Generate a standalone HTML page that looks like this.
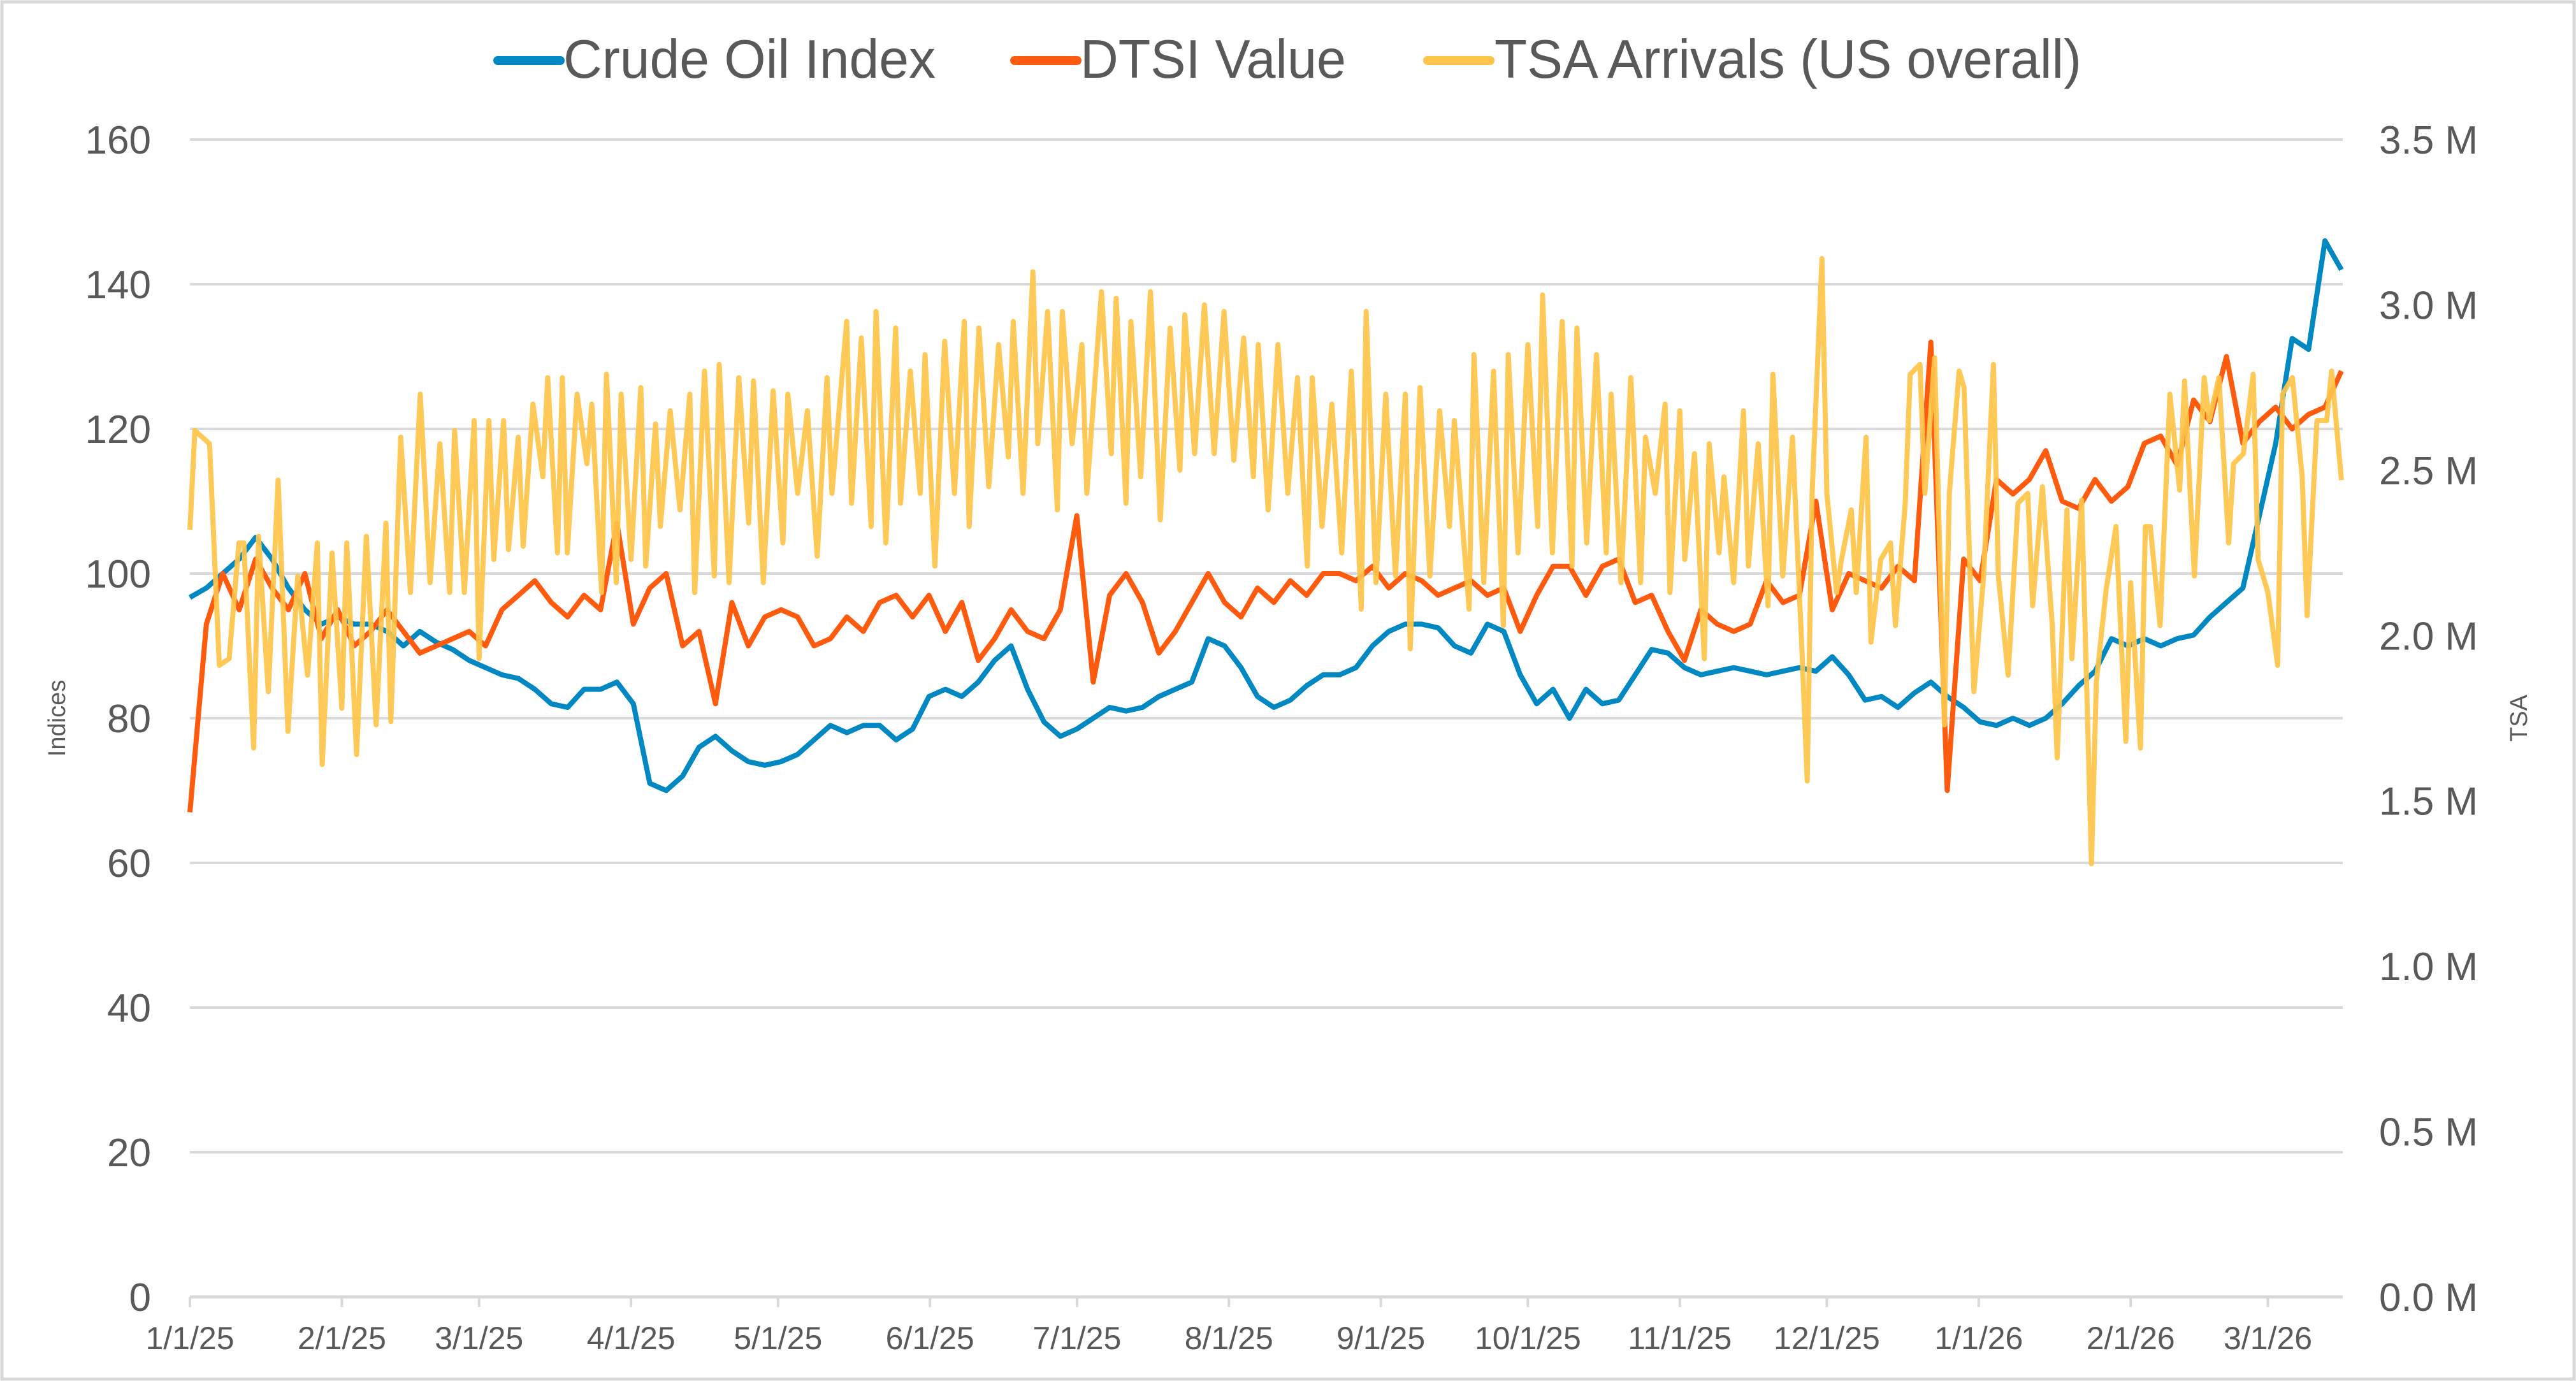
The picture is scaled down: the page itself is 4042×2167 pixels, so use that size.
<!DOCTYPE html>
<html><head><meta charset="utf-8"><style>
html,body{margin:0;padding:0;background:#fff;}
svg{display:block;font-family:"Liberation Sans",sans-serif;}
</style></head><body>
<svg id="chart" width="4042" height="2167" viewBox="0 0 4042 2167" xmlns="http://www.w3.org/2000/svg">
<rect x="3" y="3" width="4036" height="2161" fill="#fff" stroke="#d9d9d9" stroke-width="5"/>
<g id="grid"></g>
<g id="axes"></g>
<g id="series"></g>
<g>
  <g>
    <line x1="781" y1="95" x2="879" y2="95" stroke="#0088c2" stroke-width="14" stroke-linecap="round"/>
    <text x="884" y="122" font-size="85" fill="#595959" textLength="584" lengthAdjust="spacingAndGlyphs">Crude Oil Index</text>
  </g>
  <g>
    <line x1="1592" y1="95" x2="1690" y2="95" stroke="#ff5b0f" stroke-width="14" stroke-linecap="round"/>
    <text x="1695" y="122" font-size="85" fill="#595959" textLength="417" lengthAdjust="spacingAndGlyphs">DTSI Value</text>
  </g>
  <g>
    <line x1="2240" y1="95" x2="2338" y2="95" stroke="#ffc44a" stroke-width="14" stroke-linecap="round"/>
    <text x="2345" y="122" font-size="85" fill="#595959" textLength="921" lengthAdjust="spacingAndGlyphs">TSA Arrivals (US overall)</text>
  </g>
</g>
<text transform="translate(102,1127) rotate(-90)" text-anchor="middle" font-size="38" fill="#595959">Indices</text>
<text transform="translate(3965,1127) rotate(-90)" text-anchor="middle" font-size="38" fill="#595959">TSA</text>
</svg>
<script>
const leftTicks=[0,20,40,60,80,100,120,140,160];
const rightTicks=[0,0.5,1.0,1.5,2.0,2.5,3.0,3.5];
const xTickDays=[0,31,59,90,120,151,181,212,243,273,304,334,365,396,424];
const xTickLabels=["1/1/25","2/1/25","3/1/25","4/1/25","5/1/25","6/1/25","7/1/25","8/1/25","9/1/25","10/1/25","11/1/25","12/1/25","1/1/26","2/1/26","3/1/26"];
const oilValues=[96.7,98,100,102,105,102,98,95,93,94,
93,93,92,90,92,90.5,89.5,88,87,86,
85.5,84,82,81.5,84,84,85,82,71,70,
72,76,77.5,75.5,74,73.5,74,75,77,79,
78,79,79,77,78.5,83,84,83,85,88,
90,84,79.5,77.5,78.5,80,81.5,81,81.5,83,
84,85,91,90,87,83,81.5,82.5,84.5,86,
86,87,90,92,93,93,92.5,90,89,93,
92,86,82,84,80,84,82,82.5,86,89.5,
89,87,86,86.5,87,86.5,86,86.5,87,86.5,
88.5,86,82.5,83,81.5,83.5,85,83,81.5,79.5,
79,80,79,80,82,84.5,86.5,91,90,91,
90,91,91.5,94,96,98,108,118,132.5,131,
146,142];
const dtsiValues=[67,93,100,95,102,98,95,100,91,95,
90,92,95,92,89,90,91,92,90,95,
97,99,96,94,97,95,107,93,98,100,
90,92,82,96,90,94,95,94,90,91,
94,92,96,97,94,97,92,96,88,91,
95,92,91,95,108,85,97,100,96,89,
92,96,100,96,94,98,96,99,97,100,
100,99,101,98,100,99,97,98,99,97,
98,92,97,101,101,97,101,102,96,97,
92,88,95,93,92,93,99,96,97,110,
95,100,99,98,101,99,132,70,102,99,
113,111,113,117,110,109,113,110,112,118,
119,115,124,121,130,118,121,123,120,122,
123,128];
const seriesEndDay=439;
const tsaDays=[0,1,4,6,8,10,11,13,14,16,
18,20,22,24,26,27,29,31,32,34,
36,38,40,41,43,45,47,49,51,53,
54,56,58,59,61,62,64,65,67,68,
70,72,73,75,76,77,79,81,82,84,
85,87,88,90,92,93,95,96,98,100,
102,103,105,107,108,110,112,114,115,117,
119,121,122,124,126,128,130,131,134,135,
137,139,140,142,144,145,147,149,150,152,
154,156,158,159,161,163,165,167,168,170,
172,173,175,177,178,180,182,183,186,188,
189,191,192,194,196,198,200,202,203,205,
207,209,211,213,215,217,218,220,222,224,
226,228,229,231,233,235,237,239,240,242,
244,246,248,249,251,253,255,257,258,261,
262,264,266,268,269,271,273,275,276,278,
280,282,283,285,287,289,290,292,294,296,
297,299,301,302,304,305,307,309,310,312,
313,315,317,318,320,322,323,325,327,329,
330,331,333,334,336,337,339,340,342,343,
345,347,348,350,351,353,354,356,358,359,
361,362,364,366,368,369,371,373,375,376,
378,380,381,383,384,386,388,389,391,393,
395,396,398,399,400,402,404,406,407,409,
411,412,414,416,417,419,421,422,424,426,
427,429,431,432,434,436,437,439];
const tsaValues=[2.32,2.62,2.58,1.91,1.93,2.28,2.28,1.66,2.30,1.83,
2.47,1.71,2.18,1.88,2.28,1.61,2.25,1.78,2.28,1.64,
2.30,1.73,2.34,1.74,2.60,2.13,2.73,2.16,2.58,2.13,
2.62,2.13,2.65,1.93,2.65,2.23,2.65,2.26,2.60,2.27,
2.70,2.48,2.78,2.25,2.78,2.25,2.73,2.52,2.70,2.13,
2.79,2.16,2.73,2.23,2.75,2.21,2.64,2.33,2.68,2.38,
2.73,2.13,2.80,2.18,2.82,2.16,2.78,2.34,2.77,2.16,
2.74,2.28,2.73,2.43,2.68,2.24,2.78,2.43,2.95,2.40,
2.90,2.33,2.98,2.28,2.93,2.40,2.80,2.43,2.85,2.21,
2.89,2.43,2.95,2.33,2.93,2.45,2.88,2.54,2.95,2.43,
3.10,2.58,2.98,2.38,2.98,2.58,2.88,2.43,3.04,2.55,
3.02,2.40,2.95,2.48,3.04,2.35,2.93,2.50,2.97,2.55,
3.00,2.55,2.98,2.53,2.90,2.48,2.88,2.38,2.88,2.43,
2.78,2.21,2.78,2.33,2.70,2.25,2.80,2.08,2.98,2.16,
2.73,2.18,2.73,1.96,2.75,2.18,2.68,2.33,2.65,2.08,
2.85,2.16,2.80,2.03,2.85,2.25,2.88,2.33,3.03,2.25,
2.95,2.21,2.93,2.28,2.85,2.25,2.73,2.16,2.78,2.16,
2.60,2.43,2.70,2.13,2.68,2.23,2.55,1.93,2.58,2.25,
2.48,2.16,2.68,2.21,2.58,2.09,2.79,2.18,2.60,1.93,
1.56,2.43,3.14,2.43,2.13,2.23,2.38,2.13,2.60,1.98,
2.23,2.28,2.03,2.40,2.79,2.82,2.43,2.84,1.73,2.43,
2.80,2.75,1.83,2.18,2.82,2.18,1.88,2.40,2.43,2.09,
2.45,2.03,1.63,2.38,1.93,2.41,1.31,1.86,2.14,2.33,
1.68,2.16,1.66,2.33,2.33,2.03,2.73,2.44,2.77,2.18,
2.78,2.65,2.78,2.28,2.52,2.55,2.79,2.23,2.13,1.91,
2.73,2.78,2.48,2.06,2.65,2.65,2.80,2.47];

const NS="http://www.w3.org/2000/svg";
const X0=298,PXDAY=7.69,Y0=2035,YTOP=219;
function xScale(d){return X0+d*PXDAY;}
function yLeft(v){return Y0-(v/160)*(Y0-YTOP);}
function yRight(v){return Y0-(v/3.5)*(Y0-YTOP);}
function mk(tag,attrs,parent){const e=document.createElementNS(NS,tag);for(const k in attrs)e.setAttribute(k,attrs[k]);parent.appendChild(e);return e;}
const grid=document.getElementById('grid'),axes=document.getElementById('axes'),ser=document.getElementById('series');
const xRight=3676;
leftTicks.forEach(v=>{
  if(v>0){const l=mk('line',{x1:X0,x2:xRight,y1:yLeft(v),y2:yLeft(v),stroke:'#d9d9d9','stroke-width':4},grid);
  
  }
  const t=mk('text',{x:237,y:yLeft(v)+22,'text-anchor':'end','font-size':62,fill:'#595959'},axes);
  t.textContent=v;
  
  
});
rightTicks.forEach(v=>{
  const t=mk('text',{x:3733,y:yRight(v)+22,'font-size':62,fill:'#595959'},axes);
  t.textContent=v.toFixed(1)+' M';
  
  
});
const ax=mk('line',{x1:X0,x2:xRight,y1:Y0,y2:Y0,stroke:'#d9d9d9','stroke-width':5},axes);


xTickDays.forEach((d,i)=>{
  const tk=mk('line',{x1:xScale(d),x2:xScale(d),y1:Y0,y2:Y0+16,stroke:'#d9d9d9','stroke-width':4},axes);
  
  
  const t=mk('text',{x:xScale(d),y:2117,'text-anchor':'middle','font-size':50,fill:'#595959'},axes);
  t.textContent=xTickLabels[i];
  
  
});
function uniformDays(n){const a=[];for(let i=0;i<n;i++)a.push(i*seriesEndDay/(n-1));return a;}
function path(days,vals,ys){return vals.map((v,i)=>(i?'L':'M')+xScale(days[i]).toFixed(1)+','+ys(v).toFixed(1)).join(' ');}
const oilPath=mk('path',{d:path(uniformDays(oilValues.length),oilValues,yLeft),fill:'none',stroke:'#0088c2','stroke-width':8,'stroke-linejoin':'round'},ser);


const dtsiPath=mk('path',{d:path(uniformDays(dtsiValues.length),dtsiValues,yLeft),fill:'none',stroke:'#ff5b0f','stroke-width':8,'stroke-linejoin':'round'},ser);


const tsaPath=mk('path',{d:path(tsaDays,tsaValues,yRight),fill:'none',stroke:'#ffc44a','stroke-width':8,'stroke-linejoin':'round','stroke-opacity':0.92},ser);


</script>
</body></html>
